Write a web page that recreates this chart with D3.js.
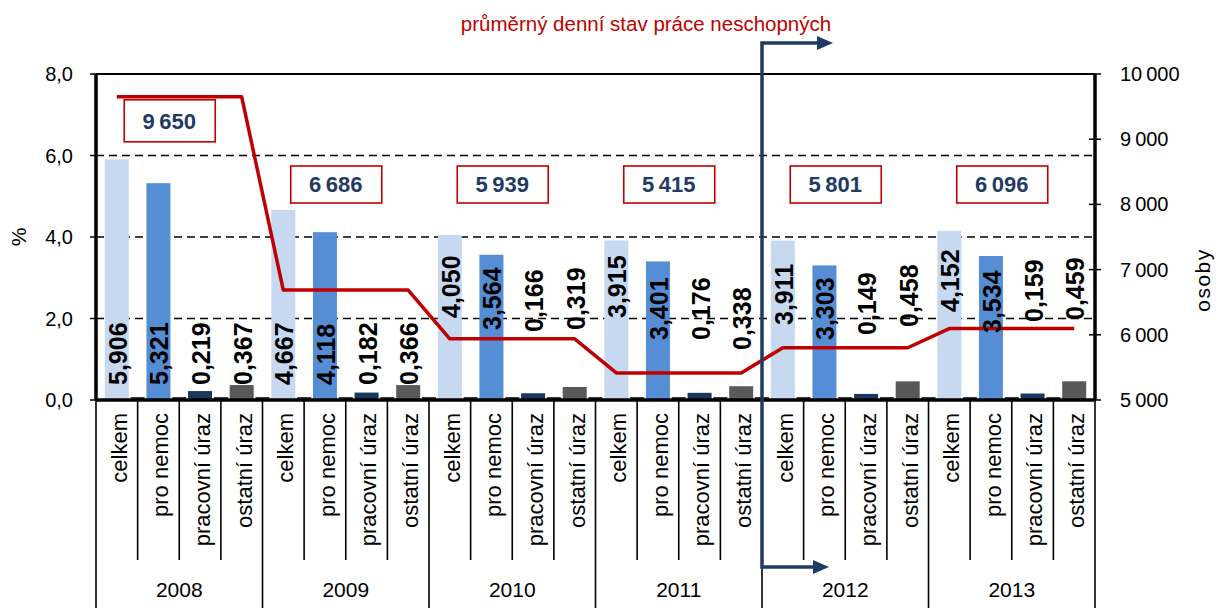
<!DOCTYPE html>
<html>
<head>
<meta charset="utf-8">
<script src="https://cdn.jsdelivr.net/npm/d3@7"></script>
<style>
  body { margin: 0; background: #fff; }
  svg { font-family: "Liberation Sans", Arial, sans-serif; }
</style>
</head>
<body>
<script>
// data
const years = ["2008", "2009", "2010", "2011", "2012", "2013"];
const kinds = ["celkem", "pro nemoc", "pracovní úraz", "ostatní úraz"];
const celkem = [5.906, 4.667, 4.050, 3.915, 3.911, 4.152];
const proNemoc = [5.321, 4.118, 3.564, 3.401, 3.303, 3.534];
const pracovniUraz = [0.219, 0.182, 0.166, 0.176, 0.149, 0.159];
const ostatniUraz = [0.367, 0.366, 0.319, 0.338, 0.458, 0.459];
const stav = [9650, 6686, 5939, 5415, 5801, 6096];
const leftTicks = [0, 2, 4, 6, 8];
const rightTicks = [5000, 6000, 7000, 8000, 9000, 10000];

// layout only: how far each value label sits above the baseline (px)
const labelRaise = [15, 15, 15, 15,  15, 15, 15, 15,  82, 70, 68, 70,
                    82, 60, 60, 50,  75, 60, 65, 73,  88, 67, 78, 80];

const colors = ["#C6D9F1", "#558ED5", "#17375E", "#595959"];
const series = [celkem, proNemoc, pracovniUraz, ostatniUraz];

// flatten to one row per bar
let rows = [];
years.forEach((y, i) => {
  kinds.forEach((k, j) => {
    rows.push({ key: y + "|" + k, year: y, kind: k, ki: j, value: series[j][i], stav: stav[i] });
  });
});

const W = 1218, H = 608;
const pLeft = 96, pRight = 1095, pTop = 74, pBase = 400;

let svg = d3.select("body").append("svg")
    .attr("width", W)
    .attr("height", H);

let x = d3.scaleBand().domain(rows.map(d => d.key)).range([pLeft, pRight]).padding(0);
let yL = d3.scaleLinear().domain([0, 8]).range([pBase, pTop]);
let yR = d3.scaleLinear().domain([5000, 10000]).range([pBase, pTop]);
let fmtL = d3.formatLocale({ decimal: ",", thousands: "\u2009", grouping: [3], currency: ["", ""] });
let bw = 24;

// gridlines
svg.append("g").selectAll("line")
    .data(leftTicks.filter(t => t > 0))
    .enter().append("line")
    .attr("x1", pLeft).attr("x2", pRight)
    .attr("y1", d => yL(d)).attr("y2", d => yL(d))
    .attr("stroke", "#000").attr("stroke-width", 1.3)
    .attr("stroke-dasharray", "8,5");

// bars
svg.append("g").selectAll("rect")
    .data(rows)
    .enter().append("rect")
    .attr("x", d => x(d.key) + (x.bandwidth() - bw) / 2)
    .attr("width", bw)
    .attr("y", d => yL(d.value))
    .attr("height", d => pBase - yL(d.value))
    .attr("fill", d => colors[d.ki]);

// tiny zero-height stubs between bars
svg.append("g").selectAll("rect")
    .data(rows.slice(1))
    .enter().append("rect")
    .attr("x", d => x(d.key) - 7)
    .attr("width", 14)
    .attr("y", pBase - 3)
    .attr("height", 3)
    .attr("fill", "#3a3a3a");

// red line (right axis)
let line = d3.line()
    .x(d => x(d.key) + x.bandwidth() / 2)
    .y(d => yR(d.stav));
svg.append("path")
    .datum(rows)
    .attr("d", line)
    .attr("fill", "none")
    .attr("stroke", "#C00000")
    .attr("stroke-width", 3.5)
    .attr("stroke-linejoin", "round");

// value labels
svg.append("g").selectAll("text")
    .data(rows)
    .enter().append("text")
    .attr("transform", (d, i) => "translate(" + (x(d.key) + x.bandwidth() / 2) + "," + (pBase - labelRaise[i]) + ") rotate(-90)")
    .attr("dy", "0.4em")
    .style("font-family", "'Liberation Sans Narrow', 'Arial Narrow', sans-serif")
    .style("font-weight", "bold")
    .style("font-size", "25px")
    .attr("fill", "#000")
    .text(d => fmtL.format(".3f")(d.value));

// boxes with yearly averages
let groupW = x.bandwidth() * 4;
let boxes = svg.append("g").selectAll("g")
    .data(years.map((y, i) => ({ year: y, v: stav[i], i: i })))
    .enter().append("g")
    .attr("transform", d => {
      let cx = x(d.year + "|celkem") + groupW / 2 - 10;
      let ty = Math.min(yR(d.v) + 3, 166);
      return "translate(" + cx + "," + ty + ")";
    });
boxes.append("rect")
    .attr("x", -45).attr("width", 91)
    .attr("y", 0).attr("height", d => d.i === 0 ? 42 : 37)
    .attr("fill", "#fff")
    .attr("stroke", "#C00000").attr("stroke-width", 1.6);
boxes.append("text")
    .attr("x", 0)
    .attr("y", d => d.i === 0 ? 29 : 26)
    .attr("text-anchor", "middle")
    .style("font-weight", "bold")
    .style("font-size", "22px")
    .attr("fill", "#1F3B63")
    .text(d => fmtL.format(",d")(d.v));

// frame
svg.append("line").attr("x1", pLeft).attr("x2", pRight).attr("y1", pTop).attr("y2", pTop)
    .attr("stroke", "#000").attr("stroke-width", 2);
svg.append("line").attr("x1", pLeft).attr("x2", pLeft).attr("y1", pTop).attr("y2", pBase)
    .attr("stroke", "#000").attr("stroke-width", 3.5);
svg.append("line").attr("x1", pRight).attr("x2", pRight).attr("y1", pTop).attr("y2", pBase)
    .attr("stroke", "#000").attr("stroke-width", 3.5);

// left axis ticks + labels
let gl = svg.append("g");
gl.selectAll("line").data(leftTicks).enter().append("line")
    .attr("x1", pLeft - 6).attr("x2", pLeft)
    .attr("y1", d => yL(d)).attr("y2", d => yL(d))
    .attr("stroke", "#000").attr("stroke-width", 1.5);
gl.selectAll("text").data(leftTicks).enter().append("text")
    .attr("x", 73).attr("y", d => yL(d)).attr("dy", "0.35em")
    .attr("text-anchor", "end")
    .style("font-size", "20px")
    .text(d => fmtL.format(".1f")(d));

// right axis ticks + labels
let gr = svg.append("g");
gr.selectAll("line").data(rightTicks).enter().append("line")
    .attr("x1", pRight - 6).attr("x2", pRight + 6)
    .attr("y1", d => yR(d)).attr("y2", d => yR(d))
    .attr("stroke", "#000").attr("stroke-width", 1.5);
gr.selectAll("text").data(rightTicks).enter().append("text")
    .attr("x", 1120).attr("y", d => yR(d)).attr("dy", "0.35em")
    .style("font-size", "20px")
    .text(d => fmtL.format(",d")(d));

// axis titles
svg.append("text")
    .attr("transform", "translate(19,237) rotate(-90)")
    .attr("dy", "0.35em")
    .attr("text-anchor", "middle")
    .style("font-size", "21px")
    .text("%");
svg.append("text")
    .attr("transform", "translate(1203,280) rotate(-90)")
    .attr("dy", "0.35em")
    .attr("text-anchor", "middle")
    .style("font-size", "21px")
    .style("letter-spacing", "1.5px")
    .text("osoby");

// baseline
svg.append("line").attr("x1", pLeft).attr("x2", pRight).attr("y1", pBase).attr("y2", pBase)
    .attr("stroke", "#000").attr("stroke-width", 3.5);

// category separators below baseline
let bounds = rows.map(d => ({ xpos: x(d.key), yearEdge: d.ki === 0 }));
bounds.push({ xpos: pRight, yearEdge: true });
svg.append("g").selectAll("line")
    .data(bounds)
    .enter().append("line")
    .attr("x1", d => d.xpos).attr("x2", d => d.xpos)
    .attr("y1", pBase).attr("y2", d => d.yearEdge ? H : 560)
    .attr("stroke", "#000").attr("stroke-width", 1.6);

// category labels
svg.append("g").selectAll("text")
    .data(rows)
    .enter().append("text")
    .attr("transform", d => "translate(" + (x(d.key) + x.bandwidth() / 2) + ",413) rotate(-90)")
    .attr("dy", "0.45em")
    .attr("text-anchor", "end")
    .style("font-size", "22px")
    .text(d => d.kind);

// year labels
svg.append("g").selectAll("text")
    .data(years)
    .enter().append("text")
    .attr("x", d => x(d + "|celkem") + groupW / 2)
    .attr("y", 597)
    .attr("text-anchor", "middle")
    .style("font-size", "21px")
    .text(d => d);

// legend title with the navy bracket arrow
svg.append("text")
    .attr("x", 646).attr("y", 31)
    .attr("text-anchor", "middle")
    .style("font-size", "20.5px")
    .attr("fill", "#C00000")
    .text("průměrný denní stav práce neschopných");

let ax = x("2012|celkem");
let navy = "#1F3B63";
svg.append("path")
    .attr("d", "M" + (ax + 56) + ",43 H" + ax + " V567 H" + (ax + 52))
    .attr("fill", "none")
    .attr("stroke", navy)
    .attr("stroke-width", 3.5);
svg.append("path")
    .attr("d", "M" + (ax + 55) + ",36 L" + (ax + 71) + ",43 L" + (ax + 55) + ",50 Z")
    .attr("fill", navy);
svg.append("path")
    .attr("d", "M" + (ax + 51) + ",560 L" + (ax + 67) + ",567 L" + (ax + 51) + ",574 Z")
    .attr("fill", navy);
</script>
</body>
</html>
